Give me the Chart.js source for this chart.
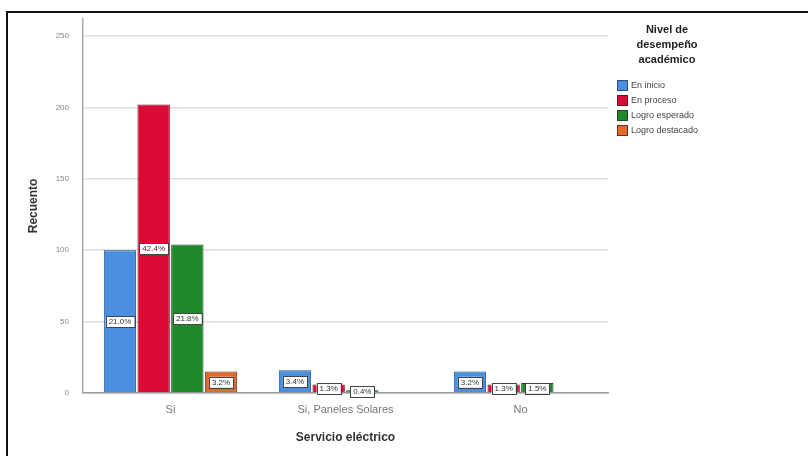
<!DOCTYPE html>
<html>
<head>
<meta charset="utf-8">
<script src="https://cdn.jsdelivr.net/npm/chart.js@4/dist/chart.umd.min.js"></script>
<style>
  html, body { margin: 0; padding: 0; background: #fff; }
  #wrap { position: relative; width: 808px; height: 456px; }
  #frame { position: absolute; left: 6px; top: 11px; right: 0; bottom: 0;
           border-top: 2px solid #111; border-left: 2px solid #111; pointer-events: none; }
</style>
</head>
<body>
<div id="wrap">
  <canvas id="chart" width="808" height="456"></canvas>
  <div id="frame"></div>
</div>
<script>
const categories = ["Si", "Si, Paneles Solares", "No"];
const levels = ["En inicio", "En proceso", "Logro esperado", "Logro destacado"];
const enInicio = [100, 16, 15];
const enProceso = [202, 6, 6];
const logroEsperado = [104, 2, 7];
const logroDestacado = [15, 0, 0];
const pctInicio = ["21.0%", "3.4%", "3.2%"];
const pctProceso = ["42.4%", "1.3%", "1.3%"];
const pctEsperado = ["21.8%", "0.4%", "1.5%"];
const pctDestacado = ["3.2%", "", ""];
const yTicks = [0, 50, 100, 150, 200, 250];

const fillColors = ["#4a8fe0", "#dc0a34", "#1f8a2c", "#e6672c"];
const edgeColors = ["#2d4f78", "#6b1020", "#1a4a1c", "#6a3018"];

const seriesValues = [enInicio, enProceso, logroEsperado, logroDestacado];
const seriesPct = [pctInicio, pctProceso, pctEsperado, pctDestacado];

/* ---------- BAR LABELS ---------- */
const barLabels = {
  id: "barLabels",
  afterDatasetsDraw(chart) {
    const ctx = chart.ctx;
    const y = chart.scales.y;
    ctx.save();
    ctx.font = "8px 'Liberation Sans', Arial, sans-serif";
    ctx.textAlign = "center";
    ctx.textBaseline = "middle";
    chart.data.datasets.forEach((ds, di) => {
      chart.getDatasetMeta(di).data.forEach((bar, i) => {
        const txt = seriesPct[di][i];
        if (!txt) return;
        const cy = y.getPixelForValue(ds.data[i] / 2);
        const w = ctx.measureText(txt).width + 6;
        const h = 11;
        ctx.fillStyle = "#fff";
        ctx.fillRect(bar.x - w / 2, cy - h / 2, w, h);
        ctx.strokeStyle = "#444";
        ctx.lineWidth = 1;
        ctx.strokeRect(Math.round(bar.x - w / 2) + 0.5, Math.round(cy - h / 2) + 0.5, Math.round(w), h);
        ctx.fillStyle = "#333";
        ctx.fillText(txt, bar.x, cy + 0.5);
      });
    });
    ctx.restore();
  }
};

/* ---------- LEGEND ---------- */
const sideLegend = {
  id: "sideLegend",
  afterDraw(chart) {
    const ctx = chart.ctx;
    ctx.save();
    ctx.fillStyle = "#222";
    ctx.font = "bold 11px 'Liberation Sans', Arial, sans-serif";
    ctx.textAlign = "center";
    ctx.textBaseline = "middle";
    ["Nivel de", "desempeño", "académico"].forEach((t, i) => ctx.fillText(t, 667, 30 + i * 15));
    ctx.font = "9px 'Liberation Sans', Arial, sans-serif";
    ctx.textAlign = "left";
    levels.forEach((name, i) => {
      const yy = 85 + i * 15;
      ctx.fillStyle = fillColors[i];
      ctx.fillRect(617, yy - 5, 11, 11);
      ctx.strokeStyle = edgeColors[i];
      ctx.strokeRect(617.5, yy - 4.5, 10, 10);
      ctx.fillStyle = "#444";
      ctx.fillText(name, 631, yy + 1);
    });
    ctx.restore();
  }
};

new Chart(document.getElementById("chart"), {
  type: "bar",
  data: {
    labels: categories,
    datasets: levels.map((name, i) => ({
      label: name,
      data: seriesValues[i],
      backgroundColor: fillColors[i],
      borderColor: edgeColors[i],
      borderWidth: 1,
      categoryPercentage: 0.77,
      barPercentage: 0.96
    }))
  },
  options: {
    responsive: false,
    animation: false,
    layout: { padding: { left: 20, right: 200, top: 14, bottom: 11 } },
    plugins: { legend: { display: false }, tooltip: { enabled: false } },
    scales: {
      x: {
        grid: { display: false, drawTicks: false },
        border: { color: "#999", width: 1.5 },
        ticks: { color: "#777", font: { size: 11, family: "'Liberation Sans', Arial, sans-serif" }, padding: 10 },
        title: { display: true, text: "Servicio eléctrico", color: "#333",
                 font: { size: 12, weight: "bold", family: "'Liberation Sans', Arial, sans-serif" }, padding: 0 },
        afterFit: s => { s.height = 456 - 11 - 393; }
      },
      y: {
        min: 0,
        max: 262,
        afterBuildTicks: s => { s.ticks = yTicks.map(v => ({ value: v })); },
        grid: { color: "#ddd", lineWidth: 1.5, drawTicks: false },
        border: { color: "#aaa", width: 1.5 },
        ticks: { color: "#888", font: { size: 8, family: "'Liberation Sans', Arial, sans-serif" }, padding: 14 },
        title: { display: true, text: "Recuento", color: "#333",
                 font: { size: 12, weight: "bold", family: "'Liberation Sans', Arial, sans-serif" }, padding: { top: 6, bottom: 0 } },
        afterFit: s => { s.width = 83 - 20; }
      }
    }
  },
  plugins: [barLabels, sideLegend]
});
</script>
</body>
</html>
